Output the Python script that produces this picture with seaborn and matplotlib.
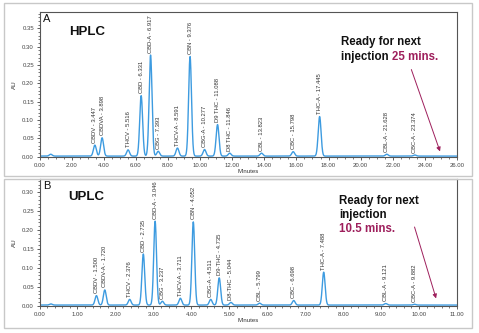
import numpy as np
import pandas as pd
import matplotlib
matplotlib.use("Agg")
import matplotlib.pyplot as plt
from matplotlib.patches import Rectangle
import seaborn as sns

# ---------------- data ----------------
hplc_names = ["CBDV", "CBDVA", "THCV", "CBD", "CBD-A", "CBG", "THCV-A", "CBN",
              "CBG-A", "D9 THC", "D8 THC", "CBL", "CBC", "THC-A", "CBL-A", "CBC-A"]
hplc_times = [3.447, 3.898, 5.516, 6.331, 6.917, 7.393, 8.591, 9.376,
              10.277, 11.088, 11.846, 13.823, 15.798, 17.445, 21.628, 23.374]
hplc_heights = [0.030, 0.050, 0.017, 0.165, 0.276, 0.013, 0.022, 0.272,
                0.018, 0.086, 0.008, 0.008, 0.012, 0.108, 0.005, 0.003]

uplc_names = ["CBDV", "CBDV-A", "THCV", "CBD", "CBD-A", "CBG", "THCV-A", "CBN",
              "CBG-A", "D9-THC", "D8-THC", "CBL", "CBC", "THC-A", "CBL-A", "CBC-A"]
uplc_times = [1.500, 1.720, 2.376, 2.735, 3.046, 3.237, 3.711, 4.052,
              4.511, 4.735, 5.044, 5.799, 6.698, 7.488, 9.121, 9.882]
uplc_heights = [0.025, 0.040, 0.015, 0.135, 0.222, 0.010, 0.018, 0.220,
                0.015, 0.072, 0.007, 0.005, 0.012, 0.087, 0.004, 0.002]

# solvent-front bump
hplc_void = (0.70, 0.005)
uplc_void = (0.30, 0.003)

LINE = "#3d9be0"
MAG = "#9e1f5c"
TXT = "#333333"


def trace(times, heights, void, tmax, sigma, n=6000):
    x = np.linspace(0, tmax, n)
    y = np.full_like(x, 0.0015)
    for t, h in zip(list(times) + [void[0]], list(heights) + [void[1]]):
        y += h * np.exp(-0.5 * ((x - t) / sigma) ** 2)
    return pd.DataFrame({"Minutes": x, "AU": y})


sns.set_style("ticks")
plt.rcParams["font.family"] = ["Liberation Sans", "DejaVu Sans"]

fig = plt.figure(figsize=(4.79, 3.33), dpi=100)

# panel frames
fig.patches.append(Rectangle((4 / 479, 1 - 176 / 333), 468 / 479, 173 / 333,
                             transform=fig.transFigure, fill=False,
                             edgecolor="#c8c8c8", lw=1.0))
fig.patches.append(Rectangle((4 / 479, 1 - 328 / 333), 468 / 479, 149 / 333,
                             transform=fig.transFigure, fill=False,
                             edgecolor="#c8c8c8", lw=1.0))

axA = fig.add_axes([39.5 / 479, 1 - 157 / 333, 417.5 / 479, 145 / 333])
axB = fig.add_axes([39.5 / 479, 1 - 306 / 333, 417.5 / 479, 127 / 333])

panels = [
    (axA, "A", "HPLC", hplc_names, hplc_times, hplc_heights, hplc_void, 26, 0.09,
     (-0.001, 0.395), np.arange(0, 26.01, 2), 0.5, np.arange(0, 0.351, 0.05)),
    (axB, "B", "UPLC", uplc_names, uplc_times, uplc_heights, uplc_void, 11, 0.037,
     (-0.001, 0.335), np.arange(0, 11.01, 1), 0.2, np.arange(0, 0.301, 0.05)),
]

for ax, letter, title, names, times, heights, void, tmax, sig, ylim, xt, xminor, yt in panels:
    df = trace(times, heights, void, tmax, sig)
    sns.lineplot(data=df, x="Minutes", y="AU", ax=ax, color=LINE, lw=1.0)
    ax.set_xlim(0, tmax)
    ax.set_ylim(*ylim)
    ax.set_xticks(xt)
    ax.set_xticklabels([f"{v:.2f}" for v in xt])
    ax.set_xticks(np.arange(0, tmax + 1e-9, xminor), minor=True)
    ax.set_yticks(yt)
    ax.set_yticklabels([f"{v:.2f}" for v in yt])
    ax.set_yticks(np.arange(0, ylim[1], 0.01), minor=True)
    ax.tick_params(axis="both", which="major", labelsize=4.3, length=2.5,
                   width=0.6, colors="#444444", pad=1.5)
    ax.tick_params(axis="both", which="minor", length=1.5, width=0.5,
                   colors="#444444")
    for s in ax.spines.values():
        s.set_color("#555555")
        s.set_linewidth(0.8)
    ax.set_xlabel("Minutes", fontsize=4.3, labelpad=1, color=TXT)
    ax.set_ylabel("AU", fontsize=4.5, labelpad=4, color=TXT)
    ax.text(0.008, 0.985, letter, transform=ax.transAxes, fontsize=8,
            va="top", ha="left", color="#111111")
    ax.text(0.07, 0.86, title, transform=ax.transAxes, fontsize=9.5,
            fontweight="bold", va="center", ha="left", color="#111111")
    for n, t, h in zip(names, times, heights):
        ax.text(t, h + 0.008, f"{n} - {t:.3f}", rotation=90, fontsize=4.2,
                ha="center", va="bottom", color=TXT)

# annotations A
axA.text(18.8, 0.305, "Ready for next", fontsize=8.3, fontweight="bold",
         color="#111111", va="baseline", ha="left")
tA = axA.text(18.8, 0.265, "injection ", fontsize=8.3, fontweight="bold",
              color="#111111", va="baseline", ha="left")
axA.annotate("25 mins.", xy=(1, 0), xycoords=tA, fontsize=8.3,
             fontweight="bold", color=MAG, va="bottom", ha="left")
axA.annotate("", xy=(25.0, 0.007), xytext=(23.1, 0.245),
             arrowprops=dict(arrowstyle="-|>", color=MAG, lw=0.7,
                             mutation_scale=6))

# annotations B
axB.text(7.9, 0.268, "Ready for next", fontsize=8.3, fontweight="bold",
         color="#111111", va="baseline", ha="left")
axB.text(7.9, 0.233, "injection", fontsize=8.3, fontweight="bold",
         color="#111111", va="baseline", ha="left")
axB.text(7.9, 0.196, "10.5 mins.", fontsize=8.3, fontweight="bold",
         color=MAG, va="baseline", ha="left")
axB.annotate("", xy=(10.47, 0.012), xytext=(9.86, 0.215),
             arrowprops=dict(arrowstyle="-|>", color=MAG, lw=0.7,
                             mutation_scale=6))

fig.savefig("out.png", dpi=100)
